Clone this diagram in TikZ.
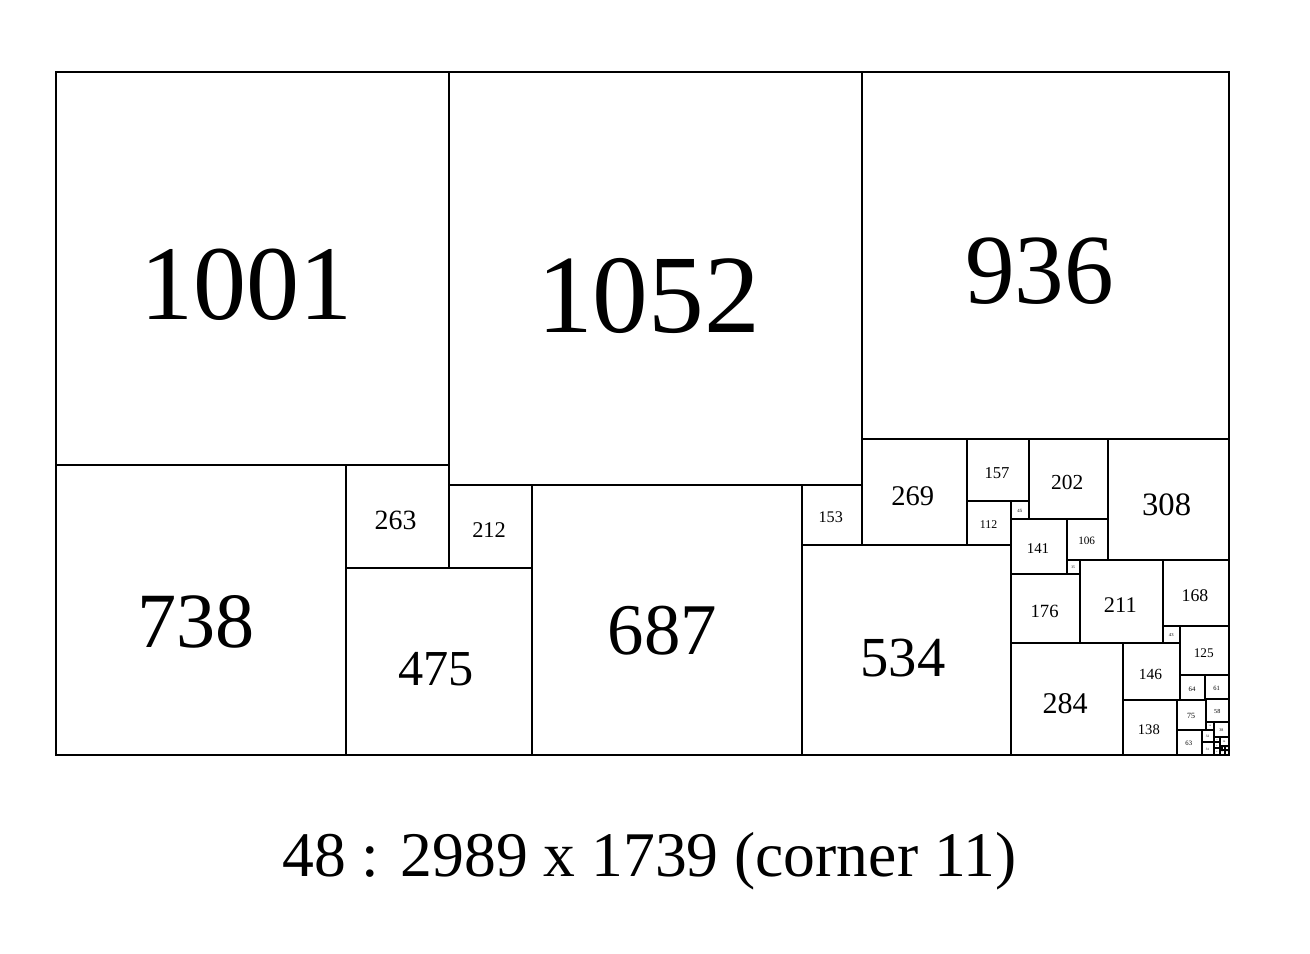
\documentclass[tikz,border=0pt]{standalone}
\usepackage{fontspec}
\setmainfont{Liberation Serif}
\usepackage{tikz}

\begin{document}
\begin{tikzpicture}[x=0.1962pt, y=-0.1962pt, line width=1pt,
  sq/.style={draw=black},
  sq label/.style={anchor=base, inner sep=0pt}]

\useasboundingbox (-142.7,-183.6) rectangle (3195.4,2246.4);

\foreach \s/\x/\y [count=\i] in {1001/0/0, 1052/1001/0, 936/2053/0,
    738/0/1001, 263/738/1001, 475/738/1264, 212/1001/1052, 687/1213/1052,
    153/1900/1052, 534/1900/1205, 269/2053/936, 157/2322/936, 112/2322/1093,
    45/2434/1093, 202/2479/936, 308/2681/936, 141/2434/1138, 106/2575/1138,
    35/2575/1244, 211/2610/1244, 168/2821/1244, 176/2434/1279, 43/2821/1412,
    125/2864/1412, 284/2434/1455, 146/2718/1455, 64/2864/1537, 61/2928/1537,
    3/2928/1598, 138/2718/1601, 75/2856/1601, 58/2931/1598, 63/2856/1676,
    20/2931/1656, 38/2951/1656, 32/2919/1676, 14/2951/1694, 24/2965/1694,
    31/2919/1708, 15/2950/1708, 5/2965/1718, 16/2950/1723, 4/2966/1723,
    9/2970/1718, 10/2979/1718, 12/2966/1727, 1/2978/1727, 11/2978/1728}
{
  \draw [sq] (\x,\y) rectangle ++(\s,\s);
  \pgfmathsetmacro\fs{0.053*\s}
  \node [sq label, font=\fontsize{\fs pt}{\fs pt}\selectfont] (sq-\i)
    at (\x+0.484*\s, \y+0.63*\s) {\s};
}

\node [sq label, font=\fontsize{31.8pt}{38pt}\selectfont] (caption)
  at (1512,2050) {48 : 2989 x 1739 (corner 11)};
\end{tikzpicture}
\end{document}
